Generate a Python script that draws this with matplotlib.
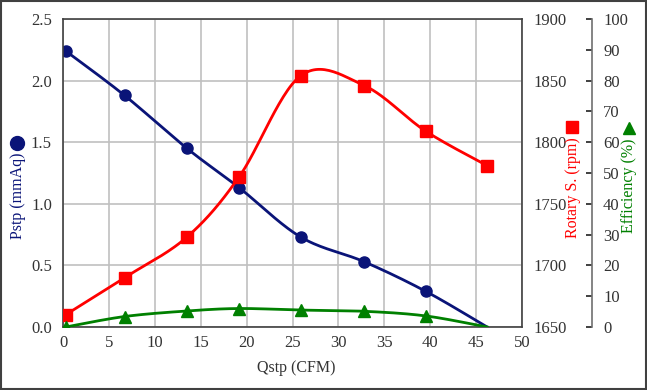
import matplotlib
matplotlib.use("Agg")
import matplotlib.pyplot as plt
import numpy as np
from matplotlib.lines import Line2D
from matplotlib.patches import Rectangle

plt.rcParams['font.family'] = ['Liberation Serif', 'DejaVu Serif']

# data
qstp = [0.3, 6.7, 13.5, 19.2, 25.9, 32.8, 39.5, 46.2]
pstp = [2.24, 1.88, 1.45, 1.13, 0.73, 0.53, 0.29, 0.0]
rpm = [1660, 1690, 1723, 1772, 1854, 1846, 1809, 1781]
eff = [0.0, 3.4, 5.2, 6.0, 5.5, 5.1, 3.6, 0.0]

navy = '#0a1478'
red = '#ff0000'
green = '#008000'


def smooth(x, y, n=30):
    # Excel-style smoothed line (Catmull-Rom as cubic Bezier)
    x = np.asarray(x, float)
    y = np.asarray(y, float)
    px = np.concatenate([[x[0]], x, [x[-1]]])
    py = np.concatenate([[y[0]], y, [y[-1]]])
    xs, ys = [], []
    t = np.linspace(0, 1, n)
    for i in range(1, len(px) - 2):
        p0 = np.array([px[i - 1], py[i - 1]])
        p1 = np.array([px[i], py[i]])
        p2 = np.array([px[i + 1], py[i + 1]])
        p3 = np.array([px[i + 2], py[i + 2]])
        c1 = p1 + (p2 - p0) / 6
        c2 = p2 - (p3 - p1) / 6
        pts = ((1 - t) ** 3)[:, None] * p1 + (3 * (1 - t) ** 2 * t)[:, None] * c1 \
            + (3 * (1 - t) * t ** 2)[:, None] * c2 + (t ** 3)[:, None] * p2
        xs.extend(pts[:, 0])
        ys.extend(pts[:, 1])
    return xs, ys


fig = plt.figure(figsize=(6.47, 3.90), dpi=100)
W, H = 647, 390
ax = fig.add_axes([63 / W, 1 - 327 / H, (522 - 63) / W, (327 - 19) / H])
ax2 = ax.twinx()
ax3 = ax.twinx()

frame = '#404040'
for s in ax.spines.values():
    s.set_color(frame)
    s.set_linewidth(1.2)
ax.set_xlim(0, 50)
ax.set_ylim(0, 2.5)
ax.set_xticks(np.arange(0, 51, 5))
ax.set_yticks(np.arange(0, 2.51, 0.5))
ax.set_yticklabels([f"{v:.1f}" for v in np.arange(0, 2.51, 0.5)])
ax.grid(True, color='#c0c0c0', linewidth=1.2)
ax.set_axisbelow(True)
ax.tick_params(axis='both', length=0, labelsize=12, colors='#333333')
ax.tick_params(axis='y', pad=8)
ax.tick_params(axis='x', pad=6)

ax2.set_ylim(1650, 1900)
ax2.set_yticks(np.arange(1650, 1901, 50))
for s in ax2.spines.values():
    s.set_visible(False)
ax2.tick_params(axis='y', length=0, pad=8, labelsize=12, colors='#333333')

ax3.set_ylim(0, 100)
ax3.set_yticks(np.arange(0, 101, 10))
for name, s in ax3.spines.items():
    s.set_visible(name == 'right')
ax3.spines['right'].set_position(('axes', (592 - 63) / (522 - 63)))
ax3.spines['right'].set_color('#707070')
ax3.spines['right'].set_linewidth(1.2)
ax3.tick_params(axis='y', direction='in', length=4, width=1.2, color='#202020',
                pad=8, labelsize=12, labelcolor='#333333')

sx, sy = smooth(qstp, pstp)
ax.plot(sx, sy, color=navy, lw=2)
ax.plot(qstp[:-1], pstp[:-1], 'o', color=navy, ms=8)

sx, sy = smooth(qstp, rpm)
ax2.plot(sx, sy, color=red, lw=2)
ax2.plot(qstp, rpm, 's', color=red, ms=8)

sx, sy = smooth(qstp, eff)
ax3.plot(sx, sy, color=green, lw=2)
ax3.plot(qstp[:-1], eff[:-1], '^', color=green, ms=8)

# axis titles with their marker keys (text starts just under the marker)
fig.text(296 / W, 1 - 368 / H, 'Qstp (CFM)', ha='center', va='center',
         fontsize=11.5, color='#333333')
fig.text(18 / W, 1 - 153 / H, 'Pstp (mmAq)', rotation=90, rotation_mode='anchor',
         ha='right', va='center', fontsize=11.5, color=navy)
fig.add_artist(Line2D([17 / W], [1 - 143 / H], marker='o', color=navy, ms=10,
                      transform=fig.transFigure))
fig.text(573 / W, 1 - 137 / H, 'Rotary S. (rpm)', rotation=90, rotation_mode='anchor',
         ha='right', va='center', fontsize=11.5, color=red)
fig.add_artist(Line2D([572 / W], [1 - 127 / H], marker='s', color=red, ms=9,
                      transform=fig.transFigure))
fig.text(629 / W, 1 - 138 / H, 'Efficiency (%)', rotation=90, rotation_mode='anchor',
         ha='right', va='center', fontsize=11.5, color=green)
fig.add_artist(Line2D([629 / W], [1 - 128 / H], marker='^', color=green, ms=9,
                      transform=fig.transFigure))

fig.patches.append(Rectangle((0.002, 0.003), 0.996, 0.994, transform=fig.transFigure,
                             fill=False, edgecolor='#404040', linewidth=1.5))

fig.savefig('out.png', dpi=100)
